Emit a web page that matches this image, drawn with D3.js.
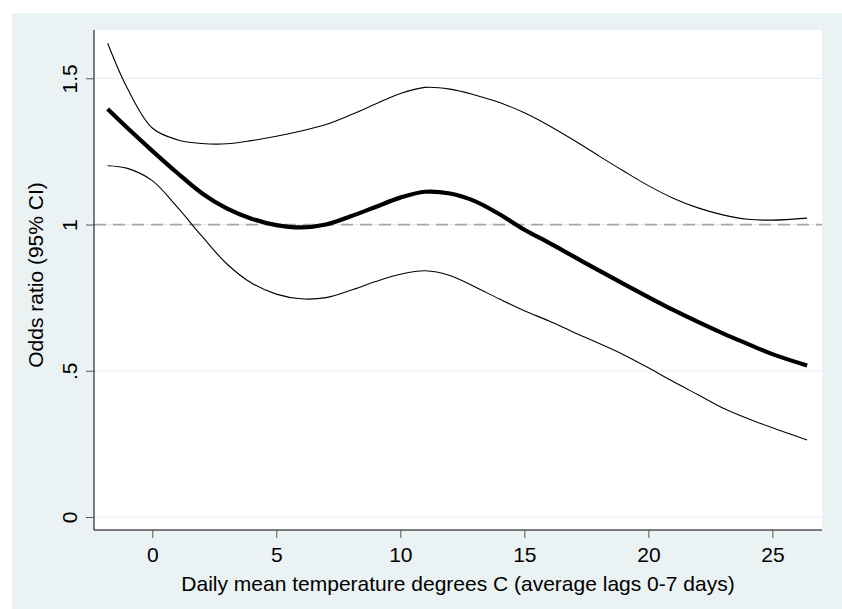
<!DOCTYPE html>
<html>
<head>
<meta charset="utf-8">
<script src="https://cdn.jsdelivr.net/npm/d3@7"></script>
<style>
  body { margin: 0; background: #fff; }
  text { font-family: "Liberation Sans", Arial, Helvetica, sans-serif; fill: #000; }
</style>
</head>
<body>
<div id="chart"></div>
<script>
// temperature (deg C, average lags 0-7)
const temps = [-1.8, -1, 0, 1, 2, 3, 4, 5, 6, 7, 8, 9, 10, 11, 12, 13, 14, 15, 16, 17, 18, 19, 20, 21, 22, 23, 24, 25, 26.4];
// odds ratio estimate
const oddsRatio = [1.395, 1.330, 1.252, 1.177, 1.107, 1.055, 1.020, 0.998, 0.990, 1.000, 1.028, 1.060, 1.092, 1.112, 1.106, 1.080, 1.035, 0.982, 0.937, 0.890, 0.843, 0.797, 0.752, 0.708, 0.667, 0.628, 0.592, 0.557, 0.518];
// 95% CI bounds
const upperCI = [1.620, 1.465, 1.330, 1.290, 1.277, 1.276, 1.287, 1.302, 1.320, 1.342, 1.375, 1.412, 1.448, 1.469, 1.463, 1.443, 1.417, 1.382, 1.338, 1.288, 1.235, 1.183, 1.133, 1.090, 1.057, 1.033, 1.018, 1.015, 1.022];
const lowerCI = [1.201, 1.192, 1.150, 1.060, 0.960, 0.866, 0.800, 0.762, 0.746, 0.750, 0.775, 0.805, 0.830, 0.842, 0.826, 0.787, 0.745, 0.705, 0.670, 0.631, 0.594, 0.555, 0.510, 0.463, 0.418, 0.373, 0.337, 0.305, 0.263];

const xTicks = [0, 5, 10, 15, 20, 25];
const yTicks = [0, 0.5, 1, 1.5];
const yTickLabels = ["0", ".5", "1", "1.5"];

const width = 842, height = 609;
const plot = { left: 94, right: 822, top: 30, bottom: 530 };
const fontSize = "21px";

const svg = d3.select("#chart").append("svg")
    .attr("width", width)
    .attr("height", height);

// graph region background
svg.append("rect")
    .attr("x", 12).attr("y", 13)
    .attr("width", width - 12).attr("height", height - 13)
    .attr("fill", "#eaf2f3");

// plot region
svg.append("rect")
    .attr("x", plot.left).attr("y", plot.top)
    .attr("width", plot.right - plot.left).attr("height", plot.bottom - plot.top)
    .attr("fill", "#fff");

const x = d3.scaleLinear()
    .domain([-2.35, 27.0])
    .range([plot.left, plot.right]);

const y = d3.scaleLinear()
    .domain([0, 1.5])
    .range([517, 78.3]);

// gridlines
svg.append("g")
    .selectAll("line")
    .data(yTicks)
    .enter().append("line")
    .attr("x1", plot.left).attr("x2", plot.right)
    .attr("y1", d => y(d)).attr("y2", d => y(d))
    .attr("stroke", "#e6eef1")
    .attr("stroke-width", 1.2);

// reference line at OR = 1
svg.append("line")
    .attr("x1", plot.left).attr("x2", plot.right)
    .attr("y1", y(1)).attr("y2", y(1))
    .attr("stroke", "#a6a6a6")
    .attr("stroke-width", 1.8)
    .attr("stroke-dasharray", "12,7");

// y axis
const yAxis = svg.append("g")
    .attr("transform", `translate(${plot.left},0)`)
    .call(d3.axisLeft(y).tickValues(yTicks).tickSize(8).tickFormat((d, i) => yTickLabels[i]));
yAxis.select(".domain").attr("d", `M0,${plot.top}V${plot.bottom}`).attr("stroke", "#000");
yAxis.selectAll(".tick line").attr("stroke", "#555");
yAxis.selectAll(".tick text")
    .attr("x", 0).attr("y", 0).attr("dy", 0)
    .attr("transform", "translate(-17,0) rotate(-90)")
    .attr("text-anchor", "middle")
    .style("font-size", fontSize)
    .style("font-family", "'Liberation Sans', Arial, sans-serif");

// x axis
const xAxis = svg.append("g")
    .attr("transform", `translate(0,${plot.bottom})`)
    .call(d3.axisBottom(x).tickValues(xTicks).tickSize(8).tickFormat(d3.format("d")));
xAxis.select(".domain").attr("d", `M${plot.left},0H${plot.right}`).attr("stroke", "#000");
xAxis.selectAll(".tick line").attr("stroke", "#555");
xAxis.selectAll(".tick text")
    .attr("y", 32).attr("dy", 0)
    .style("font-size", fontSize)
    .style("font-family", "'Liberation Sans', Arial, sans-serif");

// axis titles
svg.append("text")
    .attr("x", (plot.left + plot.right) / 2)
    .attr("y", 591)
    .attr("text-anchor", "middle")
    .style("font-size", fontSize)
    .text("Daily mean temperature degrees C (average lags 0-7 days)");

svg.append("text")
    .attr("transform", `translate(43,${(plot.top + plot.bottom) / 2 - 5}) rotate(-90)`)
    .attr("text-anchor", "middle")
    .style("font-size", fontSize)
    .text("Odds ratio (95% CI)");

// curves
const line = values => d3.line()
    .x((d, i) => x(temps[i]))
    .y(d => y(d))
    .curve(d3.curveCatmullRom.alpha(0.5))(values);

svg.append("path")
    .attr("d", line(upperCI))
    .attr("fill", "none")
    .attr("stroke", "#000")
    .attr("stroke-width", 1.1);

svg.append("path")
    .attr("d", line(lowerCI))
    .attr("fill", "none")
    .attr("stroke", "#000")
    .attr("stroke-width", 1.1);

svg.append("path")
    .attr("d", line(oddsRatio))
    .attr("fill", "none")
    .attr("stroke", "#000")
    .attr("stroke-width", 4.2);
</script>
</body>
</html>
